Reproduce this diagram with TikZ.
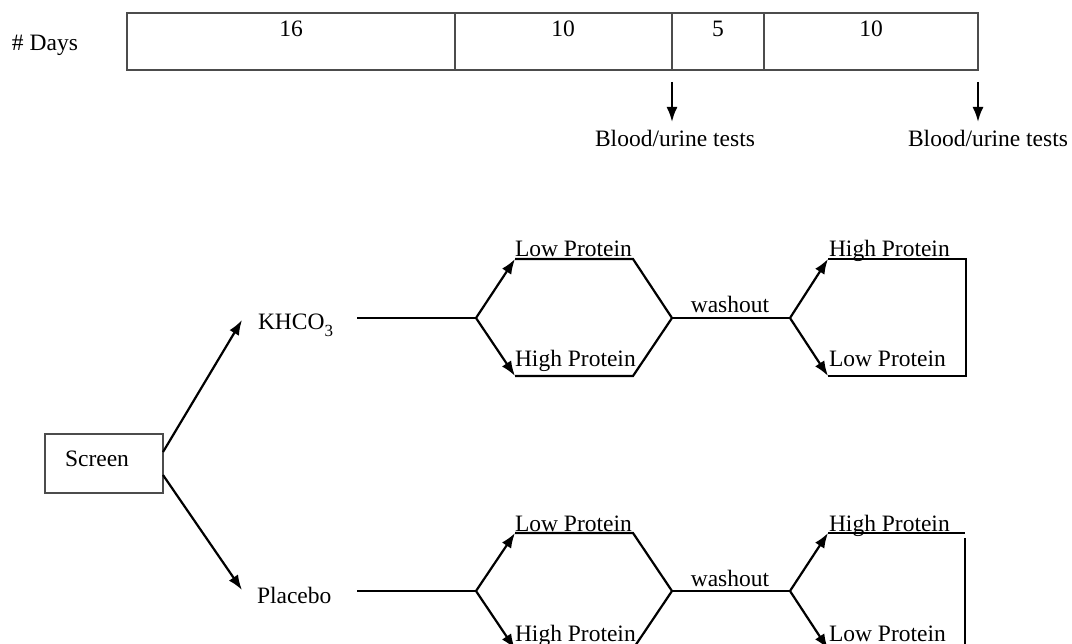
\documentclass[tikz,border=0pt]{standalone}
\usepackage{fontspec}
\setmainfont{Liberation Serif}
\usetikzlibrary{arrows.meta}
\begin{document}
\begin{tikzpicture}[x=1pt,y=-1pt,
  lbl/.style={font=\fontsize{23.5}{28}\selectfont, inner sep=0pt, outer sep=0pt},
  ln/.style={line width=2.2pt, black},
  boxln/.style={line width=1.8pt, black!70},
  arr/.style={ln, -{Latex[length=15pt,width=11pt]}},
  ]
\useasboundingbox (0,0) rectangle (1072,644);
\clip (0,0) rectangle (1072,644);

% ---- timeline ----
\node[lbl, anchor=base west] (days) at (12,51) {\# Days};
\coordinate (b1) at (127,13);
\coordinate (b2) at (978,70);
\draw[boxln] (b1) rectangle (b2);
\coordinate (d1t) at (455,13); \coordinate (d1b) at (455,70);
\coordinate (d2t) at (672,13); \coordinate (d2b) at (672,70);
\coordinate (d3t) at (764,13); \coordinate (d3b) at (764,70);
\draw[boxln] (d1t) -- (d1b) (d2t) -- (d2b) (d3t) -- (d3b);
\node[lbl] (n16) at (291,29) {16};
\node[lbl] (n10a) at (563,29) {10};
\node[lbl] (n5) at (718,29) {5};
\node[lbl] (n10b) at (871,29) {10};

\coordinate (a1s) at (672,82); \coordinate (a1e) at (672,122);
\coordinate (a2s) at (978,82); \coordinate (a2e) at (978,122);
\draw[arr] (a1s) -- (a1e);
\draw[arr] (a2s) -- (a2e);
\node[lbl, anchor=base] (bu1) at (675,147) {Blood/urine tests};
\node[lbl, anchor=base] (bu2) at (988,147) {Blood/urine tests};

% ---- screen ----
\coordinate (s1) at (45,434);
\coordinate (s2) at (163,493);
\draw[boxln] (s1) rectangle (s2);
\node[lbl, anchor=base] (screen) at (97,467) {Screen};
\coordinate (sU) at (163,452);
\coordinate (sD) at (163,475);
\coordinate (kTip) at (242,320);
\coordinate (pTip) at (242,590);
\draw[arr] (sU) -- (kTip);
\draw[arr] (sD) -- (pTip);

\node[lbl, anchor=base west] (khco) at (258,330) {KHCO\raisebox{-0.28em}{\fontsize{17}{17}\selectfont 3}};
\node[lbl, anchor=base west] (plac) at (257,603) {Placebo};

% ---- KHCO3 arm (centre y = 318) ----
\coordinate (k0) at (357,318);
\coordinate (kA) at (476,318);
\coordinate (kUL) at (515,259); \coordinate (kUR) at (633,259);
\coordinate (kDL) at (515,376); \coordinate (kDR) at (633,376);
\coordinate (kB) at (672,318);
\coordinate (kC) at (790,318);
\coordinate (kU2) at (828,259); \coordinate (kU3) at (966,259);
\coordinate (kD2) at (828,376); \coordinate (kD3) at (966,376);
\draw[ln] (k0) -- (kA);
\draw[arr] (kA) -- (kUL);
\draw[arr] (kA) -- (kDL);
\draw[ln] (kUL) -- (kUR) -- (kB);
\draw[ln] (kDL) -- (kDR) -- (kB);
\draw[ln] (kB) -- (kC);
\draw[arr] (kC) -- (kU2);
\draw[arr] (kC) -- (kD2);
\draw[ln] (kU2) -- (kU3) -- (kD3) -- (kD2);
\node[lbl, anchor=base west] (kLP1) at (515,257) {Low Protein};
\node[lbl, anchor=base west] (kHP1) at (515,367) {High Protein};
\node[lbl, anchor=base] (kW) at (730,312.5) {washout};
\node[lbl, anchor=base west] (kHP2) at (829,257) {High Protein};
\node[lbl, anchor=base west] (kLP2) at (829,367) {Low Protein};

% ---- Placebo arm (centre y = 591) ----
\coordinate (p0) at (357,591);
\coordinate (pA) at (476,591);
\coordinate (pUL) at (515,533); \coordinate (pUR) at (633,533);
\coordinate (pDL) at (515,649); \coordinate (pDR) at (633,649);
\coordinate (pB) at (672,591);
\coordinate (pC) at (790,591);
\coordinate (pU2) at (828,533); \coordinate (pU3) at (965,533);
\coordinate (pV1) at (965,538); \coordinate (pV2) at (965,649);
\coordinate (pD2) at (828,649);
\draw[ln] (p0) -- (pA);
\draw[arr] (pA) -- (pUL);
\draw[arr] (pA) -- (pDL);
\draw[ln] (pUL) -- (pUR) -- (pB);
\draw[ln] (pDL) -- (pDR) -- (pB);
\draw[ln] (pB) -- (pC);
\draw[arr] (pC) -- (pU2);
\draw[arr] (pC) -- (pD2);
\draw[ln] (pU2) -- (pU3);
\draw[ln] (pV1) -- (pV2) -- (pD2);
\node[lbl, anchor=base west] (pLP1) at (515,531.5) {Low Protein};
\node[lbl, anchor=base west] (pHP1) at (515,641) {High Protein};
\node[lbl, anchor=base] (pW) at (730,586) {washout};
\node[lbl, anchor=base west] (pHP2) at (829,531.5) {High Protein};
\node[lbl, anchor=base west] (pLP2) at (829,641) {Low Protein};
\end{tikzpicture}
\end{document}
